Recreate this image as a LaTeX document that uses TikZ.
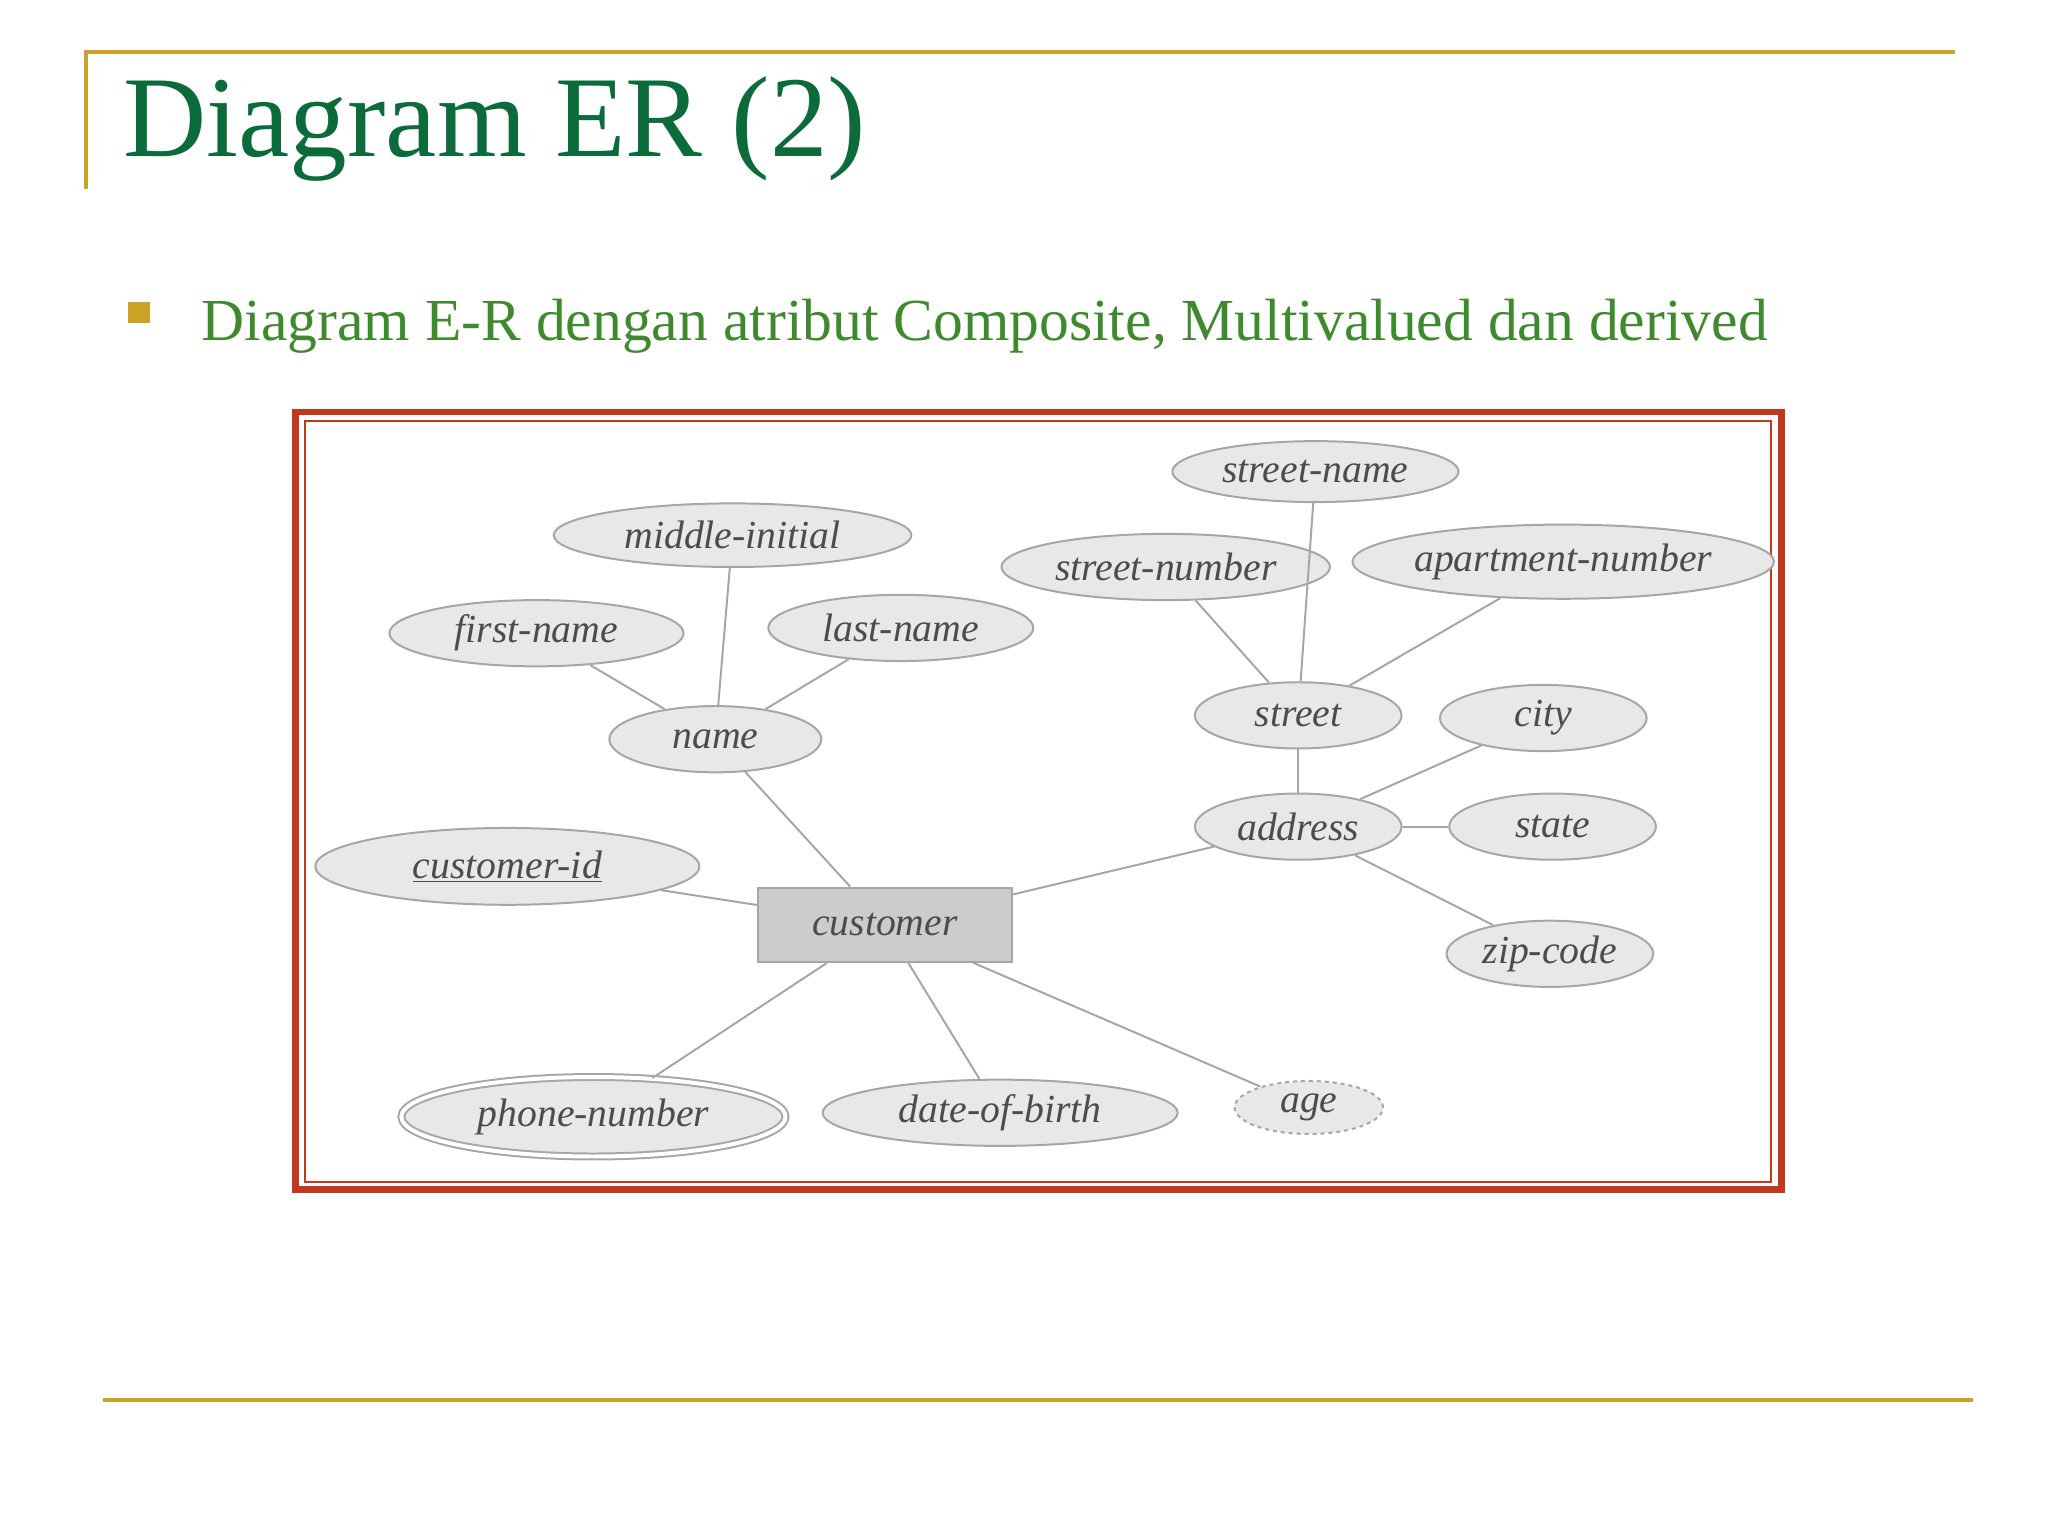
\documentclass[tikz,border=0pt]{standalone}
\usepackage{fontspec}
\setmainfont{Liberation Serif}
\usetikzlibrary{shapes.geometric}
\definecolor{gold}{HTML}{C9A227}
\definecolor{tgreen}{HTML}{0B6B3A}
\definecolor{bgreen}{HTML}{3F8A2E}
\definecolor{fred}{HTML}{C0391B}
\tikzset{
 attr/.style={ellipse,draw=gray!70,fill=gray!18,line width=1.5pt,inner sep=0pt,font=\fontsize{30}{32}\selectfont\itshape,text=black!70},
 ent/.style={rectangle,draw=gray!70,fill=gray!40,line width=1.5pt,inner sep=0pt,font=\fontsize{30}{32}\selectfont\itshape,text=black!70},
 link/.style={draw=gray!70,line width=1.5pt}
}
\begin{document}
\begin{tikzpicture}[x=1pt,y=-1pt]
\useasboundingbox (0,0) rectangle (1546,1160);
\draw[gold,line width=3pt] (65,143) -- (65,39) -- (1476,39);
\draw[gold,line width=3pt] (78,1057) -- (1489,1057);
\node[anchor=base west,text=tgreen,font=\fontsize{87}{92}\selectfont,inner sep=0] (title) at (93,118) {Diagram ER (2)};
\fill[gold] (97,228) rectangle (113,244);
\node[anchor=base west,text=bgreen,font=\fontsize{45}{50}\selectfont,inner sep=0] (sub) at (152,257) {Diagram E-R dengan atribut Composite, Multivalued dan derived};
\draw[fred,line width=5pt] (223,311) rectangle (1345,898);
\draw[fred,line width=1.5pt] (230,318) rectangle (1337,892);
\node[attr,minimum width=270,minimum height=48] (mi) at (553,404) {middle-initial};
\node[attr,minimum width=222,minimum height=50] (fn) at (405,478) {first-name};
\node[attr,minimum width=200,minimum height=50] (ln) at (680,474) {last-name};
\node[attr,minimum width=160,minimum height=50] (nm) at (540,558) {name};
\node[attr,minimum width=290,minimum height=58] (cid) at (383,654) {\underline{customer-id}};
\node[ent,minimum width=192,minimum height=56] (cu) at (668,698) {customer};
\node[attr,minimum width=290,minimum height=60,double,double distance=3pt] (ph) at (448,843) {phone-number};
\node[attr,minimum width=268,minimum height=50] (dob) at (755,840) {date-of-birth};
\node[attr,minimum width=112,minimum height=40,dashed] (age) at (988,836) {age};
\node[attr,minimum width=216,minimum height=46] (sn) at (993,356) {street-name};
\node[attr,minimum width=248,minimum height=50] (snum) at (880,428) {street-number};
\node[attr,minimum width=300,minimum height=56] (apt) at (1180,424) {apartment-number};
\node[attr,minimum width=156,minimum height=50] (st) at (980,540) {street};
\node[attr,minimum width=156,minimum height=50] (city) at (1165,542) {city};
\node[attr,minimum width=156,minimum height=50] (ad) at (980,624) {address};
\node[attr,minimum width=156,minimum height=50] (state) at (1172,624) {state};
\node[attr,minimum width=156,minimum height=50] (zip) at (1170,720) {zip-code};
\draw[link] (mi) -- (nm);
\draw[link] (fn) -- (nm);
\draw[link] (ln) -- (nm);
\draw[link] (nm) -- (cu);
\draw[link] (cid) -- (cu);
\draw[link] (cu) -- (ph);
\draw[link] (cu) -- (dob);
\draw[link] (cu) -- (age);
\draw[link] (cu) -- (ad);
\draw[link] (ad) -- (st);
\draw[link] (ad) -- (city);
\draw[link] (ad) -- (state);
\draw[link] (ad) -- (zip);
\draw[link] (st) -- (sn);
\draw[link] (st) -- (snum);
\draw[link] (st) -- (apt);
\end{tikzpicture}
\end{document}
